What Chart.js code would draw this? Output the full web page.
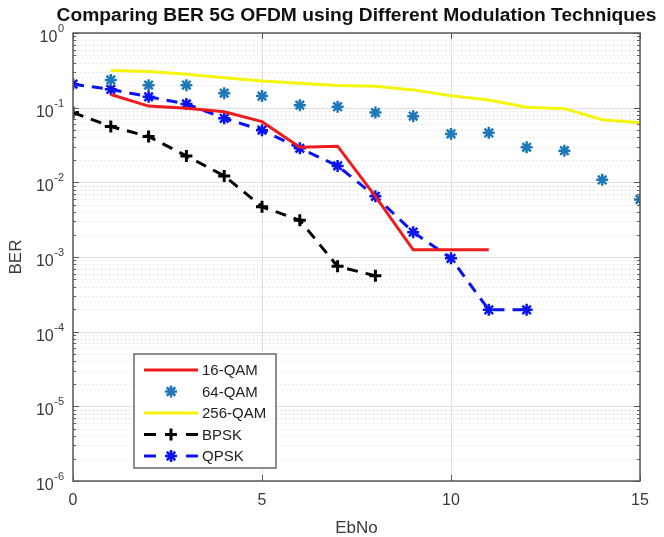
<!DOCTYPE html>
<html lang="en">
<head>
    <meta charset="UTF-8">
    <title>Comparing BER 5G OFDM using Different Modulation Techniques</title>
    <script src="https://cdn.jsdelivr.net/npm/chart.js"></script>
    <style>
        body { margin: 0; background: #ffffff; }
        #wrap { width: 664px; height: 537px; position: relative; }
    </style>
</head>
<body>
    <div id="wrap"><canvas id="berChart"></canvas></div>

    <script>
        // EbNo values per series
        const ebnoBpskQpsk = [0, 1, 2, 3, 4, 5, 6, 7, 8, 9, 10, 11, 12];
        const ebnoQam16 = [1, 2, 3, 4, 5, 6, 7, 8, 9, 10, 11];
        const ebnoQam64 = [1, 2, 3, 4, 5, 6, 7, 8, 9, 10, 11, 12, 13, 14, 15];

        // BER values
        const ber16qam = [0.15, 0.105, 0.098, 0.088, 0.065, 0.0295, 0.0305, 0.0065, 0.00125, 0.00125, 0.00125];
        const ber64qam = [0.235, 0.2, 0.2, 0.156, 0.143, 0.108, 0.103, 0.086, 0.077, 0.0445, 0.046, 0.0295, 0.0265, 0.0108, 0.0059];
        const ber256qam = [0.315, 0.305, 0.28, 0.252, 0.228, 0.212, 0.198, 0.194, 0.173, 0.144, 0.127, 0.101, 0.097, 0.069, 0.063];
        const berBpsk = [0.086, 0.056, 0.041, 0.0226, 0.0122, 0.0047, 0.0031, 0.00075, 0.00056];
        const berQpsk = [0.206, 0.176, 0.14, 0.112, 0.072, 0.05, 0.0286, 0.0166, 0.0065, 0.00215, 0.00096, 0.000196, 0.000196];

        // axis ticks
        const xTicks = [0, 5, 10, 15];
        const yTickExp = [0, -1, -2, -3, -4, -5, -6];

        const pts = (xs, ys) => ys.map((y, i) => ({ x: xs[i], y: y }));

        const ink = '#3a3a3a';

        // grid, box, tick labels, axis titles and in-plot legend (MATLAB look)
        const matlabAxes = {
            id: 'matlabAxes',
            beforeDatasetsDraw(chart) {
                const { ctx, chartArea: a, scales: { x, y } } = chart;
                ctx.save();
                ctx.lineWidth = 1;
                // minor y grid, dotted
                ctx.strokeStyle = '#d6d6d6';
                ctx.setLineDash([1, 3]);
                for (let e = -6; e < 0; e++) {
                    for (let m = 2; m <= 9; m++) {
                        const py = Math.round(y.getPixelForValue(m * Math.pow(10, e))) + 0.5;
                        ctx.beginPath();
                        ctx.moveTo(a.left, py);
                        ctx.lineTo(a.right, py);
                        ctx.stroke();
                    }
                }
                // major grid, solid
                ctx.setLineDash([]);
                ctx.strokeStyle = '#e0e0e0';
                yTickExp.forEach(e => {
                    const py = Math.round(y.getPixelForValue(Math.pow(10, e))) + 0.5;
                    ctx.beginPath();
                    ctx.moveTo(a.left, py);
                    ctx.lineTo(a.right, py);
                    ctx.stroke();
                });
                xTicks.forEach(v => {
                    const px = Math.round(x.getPixelForValue(v)) + 0.5;
                    ctx.beginPath();
                    ctx.moveTo(px, a.top);
                    ctx.lineTo(px, a.bottom);
                    ctx.stroke();
                });
                ctx.restore();
            },
            afterDraw(chart) {
                const { ctx, chartArea: a, scales: { x, y } } = chart;
                ctx.save();
                // axes box
                ctx.strokeStyle = '#5a5a5a';
                ctx.lineWidth = 1.5;
                ctx.setLineDash([]);
                ctx.strokeRect(a.left, a.top, a.right - a.left, a.bottom - a.top);

                // inward ticks
                ctx.lineWidth = 1;
                ctx.strokeStyle = '#5a5a5a';
                xTicks.forEach(v => {
                    const px = Math.round(x.getPixelForValue(v)) + 0.5;
                    ctx.beginPath();
                    ctx.moveTo(px, a.bottom); ctx.lineTo(px, a.bottom - 6);
                    ctx.moveTo(px, a.top); ctx.lineTo(px, a.top + 6);
                    ctx.stroke();
                });
                for (let e = -6; e <= 0; e++) {
                    for (let m = 1; m <= 9; m++) {
                        if (e === 0 && m > 1) break;
                        const py = Math.round(y.getPixelForValue(m * Math.pow(10, e))) + 0.5;
                        const len = m === 1 ? 6 : 3;
                        ctx.beginPath();
                        ctx.moveTo(a.left, py); ctx.lineTo(a.left + len, py);
                        ctx.moveTo(a.right, py); ctx.lineTo(a.right - len, py);
                        ctx.stroke();
                    }
                }

                ctx.fillStyle = ink;
                // x tick labels
                ctx.font = '16px "Liberation Sans", Arial, sans-serif';
                ctx.textAlign = 'center';
                ctx.textBaseline = 'middle';
                xTicks.forEach(v => {
                    ctx.fillText(String(v), x.getPixelForValue(v), a.bottom + 20);
                });

                // y tick labels 10^e
                yTickExp.forEach(e => {
                    const py = y.getPixelForValue(Math.pow(10, e));
                    ctx.font = '11px "Liberation Sans", Arial, sans-serif';
                    ctx.textAlign = 'left';
                    ctx.textBaseline = 'alphabetic';
                    const expTxt = e === 0 ? '0' : '-' + (-e);
                    const ew = ctx.measureText(expTxt).width;
                    const expX = a.left - 9 - ew;
                    ctx.fillText(expTxt, expX, py - 1);
                    ctx.font = '16px "Liberation Sans", Arial, sans-serif';
                    ctx.textAlign = 'right';
                    ctx.fillText('10', expX - 0.5, py + 9);
                });

                // axis titles
                ctx.font = '17px "Liberation Sans", Arial, sans-serif';
                ctx.textAlign = 'center';
                ctx.textBaseline = 'middle';
                ctx.fillText('EbNo', (a.left + a.right) / 2, 528);
                ctx.save();
                ctx.translate(16, (a.top + a.bottom) / 2);
                ctx.rotate(-Math.PI / 2);
                ctx.fillText('BER', 0, 0);
                ctx.restore();

                // title, slightly condensed like the MATLAB export
                const title = 'Comparing BER 5G OFDM using Different Modulation Techniques';
                ctx.fillStyle = '#111111';
                ctx.font = 'bold 18px "Liberation Sans", Arial, sans-serif';
                const tw = ctx.measureText(title).width;
                ctx.save();
                ctx.translate((a.left + a.right) / 2, 16);
                ctx.scale(600 / tw, 1);
                ctx.fillText(title, 0, 0);
                ctx.restore();

                // legend inside the axes
                const lx = 134, ly = 354, lw = 142, lh = 114;
                ctx.fillStyle = '#ffffff';
                ctx.fillRect(lx, ly, lw, lh);
                ctx.strokeStyle = '#6a6a6a';
                ctx.lineWidth = 1.5;
                ctx.strokeRect(lx, ly, lw, lh);
                chart.data.datasets.forEach((ds, i) => {
                    const cy = ly + 16 + i * 21.5;
                    const x0 = lx + 10, x1 = lx + 64, xm = (x0 + x1) / 2;
                    if (ds.showLine !== false) {
                        ctx.strokeStyle = ds.borderColor;
                        ctx.lineWidth = ds.borderWidth;
                        ctx.setLineDash([]);
                        ctx.beginPath();
                        if (ds.borderDash) {
                            ctx.moveTo(x0, cy); ctx.lineTo(x0 + 12, cy);
                            ctx.moveTo(x1 - 12, cy); ctx.lineTo(x1, cy);
                        } else {
                            ctx.moveTo(x0, cy); ctx.lineTo(x1, cy);
                        }
                        ctx.stroke();
                    }
                    if (ds.pointRadius > 0) {
                        ctx.strokeStyle = ds.pointBorderColor;
                        ctx.fillStyle = ds.pointBorderColor;
                        ctx.lineWidth = ds.pointBorderWidth;
                        Chart.helpers.drawPoint(ctx, {
                            pointStyle: ds.pointStyle,
                            radius: ds.pointRadius,
                            borderWidth: ds.pointBorderWidth,
                            rotation: 0
                        }, xm, cy);
                    }
                    ctx.fillStyle = '#222222';
                    ctx.font = '15px "Liberation Sans", Arial, sans-serif';
                    ctx.textAlign = 'left';
                    ctx.textBaseline = 'middle';
                    ctx.fillText(ds.label, lx + 68, cy + 1);
                });
                ctx.restore();
            }
        };

        new Chart(document.getElementById('berChart'), {
            type: 'line',
            data: {
                datasets: [
                    {
                        label: '16-QAM',
                        data: pts(ebnoQam16, ber16qam),
                        borderColor: '#ee1c1c',
                        borderWidth: 3,
                        pointRadius: 0,
                        tension: 0
                    },
                    {
                        label: '64-QAM',
                        data: pts(ebnoQam64, ber64qam),
                        showLine: false,
                        pointStyle: 'star',
                        pointRadius: 6,
                        pointBorderWidth: 2.5,
                        pointBorderColor: '#1f78b8',
                        pointBackgroundColor: '#1f78b8',
                        borderColor: '#1f78b8'
                    },
                    {
                        label: '256-QAM',
                        data: pts(ebnoQam64, ber256qam),
                        borderColor: '#f5f50a',
                        borderWidth: 3,
                        pointRadius: 0,
                        tension: 0
                    },
                    {
                        label: 'BPSK',
                        data: pts(ebnoBpskQpsk, berBpsk),
                        borderColor: '#000000',
                        borderWidth: 3,
                        borderDash: [11, 8],
                        pointStyle: 'cross',
                        pointRadius: 6,
                        pointBorderWidth: 3,
                        pointBorderColor: '#000000',
                        tension: 0
                    },
                    {
                        label: 'QPSK',
                        data: pts(ebnoBpskQpsk, berQpsk),
                        borderColor: '#0a14f0',
                        borderWidth: 3,
                        borderDash: [11, 8],
                        pointStyle: 'star',
                        pointRadius: 6,
                        pointBorderWidth: 2.5,
                        pointBorderColor: '#0a14f0',
                        pointBackgroundColor: '#0a14f0',
                        tension: 0
                    }
                ]
            },
            options: {
                responsive: true,
                maintainAspectRatio: false,
                animation: false,
                layout: { padding: { left: 73, right: 24, top: 33, bottom: 56 } },
                plugins: {
                    legend: { display: false },
                    tooltip: { enabled: false }
                },
                scales: {
                    x: { type: 'linear', min: 0, max: 15, display: false },
                    y: { type: 'logarithmic', min: 1e-6, max: 1, display: false }
                }
            },
            plugins: [matlabAxes]
        });
    </script>
</body>
</html>
